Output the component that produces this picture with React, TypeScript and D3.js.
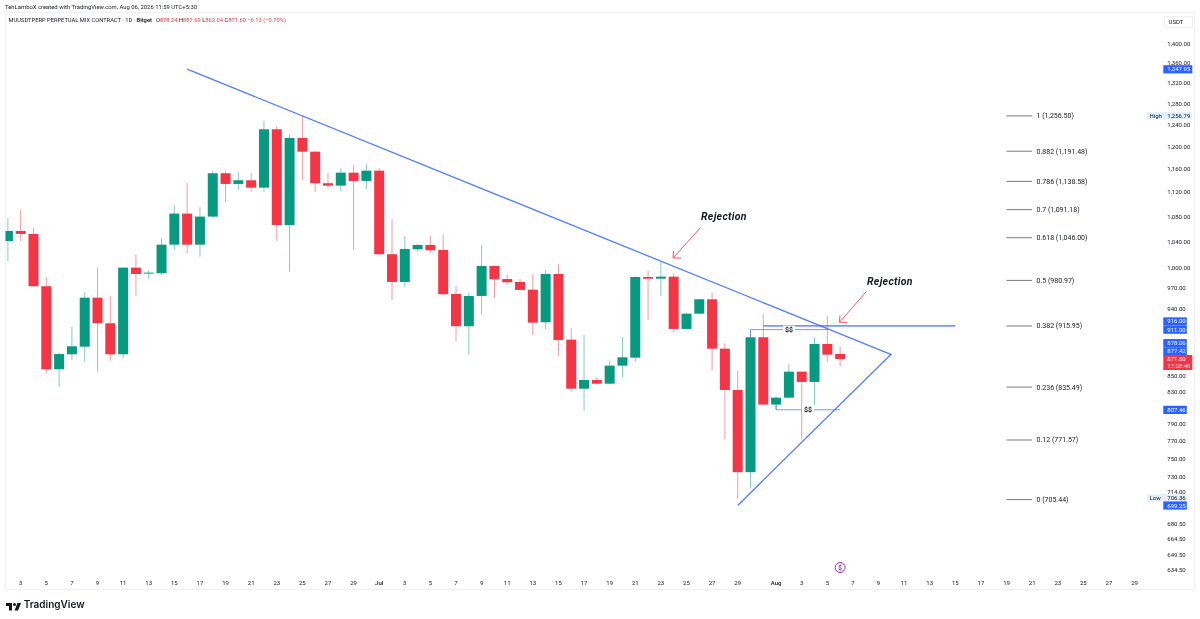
import React from "react";
import * as d3 from "d3";

const firstCandle = Date.UTC(2026, 5, 2);
const opens = [1040.9,1056.7,1052,972.4,858.2,877.8,887.9,955.8,919.7,877.8,1000,991.6,991.6,1035.2,1084.7,1035.2,1079.8,1152.6,1134.2,1140.5,1127.9,1231.4,1066.3,1215.4,1190.6,1135.4,1131.3,1153.6,1139.3,1157.1,1020.4,978.7,1028,1034.7,1027,961.2,915.6,958.3,1002.5,983,978.7,967.4,921.1,990.5,897.3,833.5,844.5,839.8,862.9,873.3,986,983.5,986.5,911.9,933.1,953.5,885.2,831.9,735.1,900.5,813.8,822.3,855.1,842,891.5,878.24];
const closes = [1056.7,1052,972.4,858.2,878.1,888.4,955.8,919.7,877.8,1000,990.5,992.5,1035.2,1084.7,1035.2,1079.8,1152.6,1134.2,1140.5,1127.9,1231.4,1066.3,1215.4,1190.6,1135.4,1131.3,1153.6,1139.3,1157.1,1020.4,978.7,1028.5,1034.7,1026.5,960.8,915.6,958.3,1002.5,982.6,978.2,967,920.6,990.5,896.9,833.5,844.5,839.8,862.9,873.8,986,983.5,986.5,911.9,933.1,953.5,885.2,831.9,735.1,900.5,813.8,822.3,855.1,842,891.5,877.3,871.6];
const highs = [1077.6,1090.7,1061.5,986,879.9,915,963.7,1000,958.2,1000,1020.4,996.5,1045.2,1098.9,1135.9,1095.1,1156.6,1156,1154.8,1153.1,1247.5,1237.6,1222.2,1256.79,1191.9,1153.1,1161.3,1167.1,1169.5,1161.8,1075.5,1048.8,1035.8,1049.3,1051.5,972.8,963.1,1034.7,1003.6,989.5,983.5,990.5,996.5,1005.6,912.9,903.9,848.3,869,900.9,987,996,1009,991.6,934.5,953.9,963.1,892.5,856.4,900.5,932.3,824.4,865.1,855.1,900.5,929.9,887.69];
const lows = [1010.1,1040.9,972.4,853.4,836,870.3,868.1,855.1,869.4,872.5,958.2,982.6,989.5,1027,1021.9,1016.6,1077.6,1103.9,1124,1121.1,1121.1,1040.9,994,1140.5,1120.6,1126.9,1121.8,1027,1125.7,1018.6,952.9,970.9,1024.4,1022.9,958.8,894.6,876.8,931.7,955,974.7,966.6,903.7,911.5,876,829.8,806.4,839.1,839.1,847.8,868.1,924.3,958.3,906.8,911.5,932.5,856.4,772.5,706.36,717.6,813.4,808.1,821.9,772.5,813.4,868.1,862.04];

const axisPrices = [1400,1360,1320,1280,1240,1200,1160,1120,1080,1040,1000,970,940,850,830,810,790,770,750,730,714,680.5,664.5,649.5,634.5];
const fibRatios = ["1","0.882","0.786","0.7","0.618","0.5","0.382","0.236","0.12","0"];
const fibPrices = [1256.5,1191.48,1138.58,1091.18,1046.0,980.97,915.95,835.49,771.57,705.44];
const junJulDays = [3,5,7,9,11,13,15,17,19,21,23,25,27,29];
const monthNames = ["Jul","Aug"];
const monthIdx = [6,7];
const blueBadgePrices = [1347.95,916.0,911.0,878.06,877.42,807.46,699.25];

const GREEN = "#089981";
const RED = "#F23645";
const BLUE = "#2962FF";
const FONT = "Roboto, 'Liberation Sans', sans-serif";

const W = 1200, H = 619;
const y = d3.scaleLog().domain([1400, 634.5]).range([44, 570]);
const x = d3.scaleUtc().domain([Date.UTC(2026, 5, 3), Date.UTC(2026, 7, 29)]).range([20.7, 1134.6]);
const D = (m: number, d: number) => Date.UTC(2026, m, d);
const fmt = d3.format(",.2f");
const line = d3.line<[number, number]>().x(p => x(p[0])).y(p => y(p[1]));

const trendA: [number, number][] = [[D(5,16),1347.95],[D(7,10),877.42]];
const trendB: [number, number][] = [[D(6,29),699.25],[D(7,10),878.06]];
const hLine: [number, number][] = [[D(6,31),916],[D(7,15),916]];
const dollarA: [number, number][] = [[D(6,30),900.5],[D(6,30),911],[D(7,5),911]];
const dollarB: [number, number][] = [[D(7,1),813.8],[D(7,1),807.46],[D(7,6),807.46]];
const arrowA: [number, number][] = [[D(6,26)+0.07*864e5,1061.5],[D(6,23)+0.95*864e5,1014.6]];
const arrowB: [number, number][] = [[D(7,8)+0.04*864e5,964.5],[D(7,5)+0.95*864e5,921]];

// the price axis pushes crowded labels apart, so some badges sit off their exact level
const badgeShift = (p: number) => (p === 916 ? -4.6 : p === 878.06 ? -11 : p === 877.42 ? -3.3 : 0);

function Arrow({ pts }: { pts: [number, number][] }) {
  const tx = x(pts[1][0]), ty = y(pts[1][1]);
  return (
    <g stroke={RED} strokeWidth={1} fill="none" opacity={0.85}>
      <path d={line(pts) || ""} />
      <path d={`M${tx + 0.5},${ty - 7}L${tx},${ty}L${tx + 8},${ty}`} />
    </g>
  );
}

function AxisBadge({ price, fill, color, wide }: { price: number; fill: string; color: string; wide?: boolean }) {
  const py = y(price) + badgeShift(price);
  return (
    <g>
      <rect x={1163.3} y={py - 4} width={wide ? 29 : 23.5} height={8.2} fill={fill} />
      <text x={1167.3} y={py + 2.1} fontSize={6} fill={color} fontFamily={FONT}>{fmt(price)}</text>
    </g>
  );
}

export default function App() {
  const dayMs = 864e5;
  const candles = opens.map((o, i) => ({ t: firstCandle + i * dayMs, o, c: closes[i], h: highs[i], l: lows[i] }));
  const tickDates: { t: number; label: string; bold: boolean }[] = [];
  junJulDays.forEach(d => tickDates.push({ t: D(5, d), label: String(d), bold: false }));
  monthIdx.forEach((m, k) => {
    tickDates.push({ t: D(m, 1), label: monthNames[k], bold: true });
    junJulDays.forEach(d => tickDates.push({ t: D(m, d), label: String(d), bold: false }));
  });
  return (
    <svg width={W} height={H} viewBox={`0 0 ${W} ${H}`} style={{ position: "absolute", left: 0, top: 0, display: "block", background: "#fff", filter: "blur(0.3px)" }}>
      {/* frame */}
      <path d="M5.5,12.5H1194.5V589.5H5.5Z" fill="none" stroke="#eef0f4" strokeWidth={1} />

      {/* header */}
      <text x={5} y={9.3} fontSize={5.9} fill="#131722" fontFamily={FONT}>TehLamboX created with TradingView.com, Aug 06, 2026 11:59 UTC+5:30</text>
      <text x={8.5} y={22.2} fontSize={5.75} fill="#131722" fontFamily={FONT}>
        MUUSDTPERP PERPETUAL MIX CONTRACT · 1D · <tspan fontWeight={600}>Bitget</tspan>
        <tspan fill={RED} dx={4}><tspan fill="#131722">O</tspan>878.24 <tspan fill="#131722">H</tspan>887.69 <tspan fill="#131722">L</tspan>862.04 <tspan fill="#131722">C</tspan>871.60 −6.13 (−0.70%)</tspan>
      </text>

      {/* candles */}
      {candles.map(d => {
        const color = d.c >= d.o ? GREEN : RED;
        const cx = x(d.t);
        const top = y(Math.max(d.o, d.c)), bot = y(Math.min(d.o, d.c));
        const left = Math.max(cx - 5, 5.5);
        const right = Math.min(cx + 5, W);
        return (
          <g key={d.t}>
            <line x1={cx} x2={cx} y1={y(d.h)} y2={y(d.l)} stroke={color} strokeOpacity={0.5} strokeWidth={1} />
            <rect x={left} y={top} width={right - left} height={Math.max(bot - top, 1)} fill={color} />
          </g>
        );
      })}

      {/* trend lines */}
      <g fill="none" stroke={BLUE} strokeOpacity={0.82} strokeWidth={1.3}>
        <path d={line(trendA) || ""} />
        <path d={line(trendB) || ""} />
        <path d={line(hLine) || ""} strokeOpacity={0.65} strokeWidth={1.7} />
        <path d={line(dollarA) || ""} strokeOpacity={0.65} strokeWidth={1} />
        <path d={line(dollarB) || ""} strokeOpacity={0.65} strokeWidth={1} />
      </g>
      {[[911, 789], [807.46, 808]].map(([p, lx], i) => (
        <g key={i}>
          <rect x={lx - 6} y={y(p) - 4} width={12} height={8} fill="#fff" />
          <text x={lx} y={y(p) + 2.4} fontSize={7} fontWeight={700} textAnchor="middle" fill="#131722" fontFamily={FONT}>$$</text>
        </g>
      ))}

      {/* rejection annotations */}
      <Arrow pts={arrowA} />
      <Arrow pts={arrowB} />
      <text x={701} y={220} fontSize={10.5} fontWeight={700} fontStyle="italic" letterSpacing={0.3} fill="#131722" fontFamily={FONT}>Rejection</text>
      <text x={867} y={285} fontSize={10.5} fontWeight={700} fontStyle="italic" letterSpacing={0.3} fill="#131722" fontFamily={FONT}>Rejection</text>

      {/* fibonacci levels */}
      {fibPrices.map((p, i) => (
        <g key={p}>
          <line x1={1006.5} x2={1032} y1={y(p)} y2={y(p)} stroke="#787b86" strokeWidth={1} />
          <text x={1036.5} y={y(p) + 2.4} fontSize={7} fill="#131722" fontFamily={FONT}>{`${fibRatios[i]} (${fmt(p)})`}</text>
        </g>
      ))}

      {/* price axis */}
      <rect x={1164.5} y={16.5} width={28} height={11} fill="#fff" stroke="#eef0f4" />
      <text x={1168.5} y={24} fontSize={6} fill="#131722" fontFamily={FONT}>USDT</text>
      {axisPrices.map(p => (
        <text key={p} x={1167.3} y={y(p) + 2.1} fontSize={6} fill="#131722" fontFamily={FONT}>{fmt(p)}</text>
      ))}

      <rect x={1147} y={y(1256.79) - 3.7} width={45} height={7.4} fill="#e3effd" />
      <text x={1149.5} y={y(1256.79) + 2.1} fontSize={6} fill="#131722" fontFamily={FONT}>High</text>
      <text x={1167.3} y={y(1256.79) + 2.1} fontSize={6} fill="#131722" fontFamily={FONT}>{fmt(1256.79)}</text>
      <rect x={1147} y={y(706.36) - 4.4} width={40} height={7.4} fill="#e3effd" />
      <text x={1149.5} y={y(706.36) + 1.4} fontSize={6} fill="#131722" fontFamily={FONT}>Low</text>
      <text x={1167.3} y={y(706.36) + 1.4} fontSize={6} fill="#131722" fontFamily={FONT}>{fmt(706.36)}</text>

      {blueBadgePrices.map((p, i) => (
        <AxisBadge key={p} price={p} fill="#2962FF" color="#fff" wide={i === 0} />
      ))}
      <rect x={1163.3} y={355} width={29} height={15} fill={RED} />
      <text x={1167.3} y={361.2} fontSize={6} fill="#fff" fontFamily={FONT}>{fmt(871.6)}</text>
      <text x={1167.3} y={368} fontSize={6} fill="#fff" fillOpacity={0.85} fontFamily={FONT}>17:38:46</text>

      {/* time axis */}
      {tickDates.map(t => (
        <text key={t.t} x={x(t.t)} y={584.5} fontSize={6} fontWeight={t.bold ? 500 : 400} textAnchor="middle" fill="#131722" fontFamily={FONT}>{t.label}</text>
      ))}

      {/* event marker */}
      <circle cx={x(D(7,6))} cy={567.5} r={5} fill="#fff" stroke="#9c27b0" strokeWidth={1} />
      <text x={x(D(7,6))} y={569.8} fontSize={6.5} fontWeight={700} textAnchor="middle" fill="#9c27b0" fontFamily={FONT}>$</text>

      {/* logo */}
      <g transform="translate(5,600) scale(0.5)" fill="#131722">
        <path d="M14 6H2v6h6v9h6V6Zm12 15h-7l6-15h7l-6 15Zm-7-9a3 3 0 1 0 0-6 3 3 0 0 0 0 6Z" />
      </g>
      <text x={23.7} y={608} fontSize={10} fontWeight={600} fill="#131722" fontFamily={"Inter, Roboto, sans-serif"}>TradingView</text>
    </svg>
  );
}
